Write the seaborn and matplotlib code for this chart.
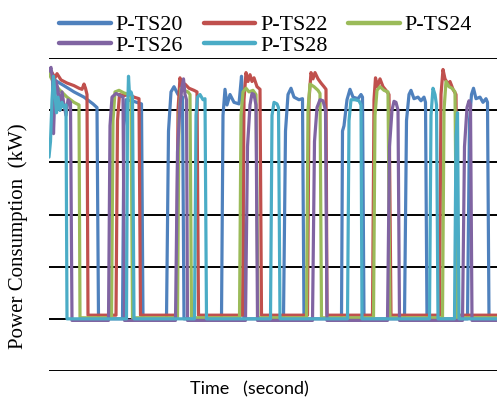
import matplotlib
matplotlib.use("Agg")
import matplotlib.pyplot as plt
import seaborn as sns
import pandas as pd

# ---- data (time in seconds, power in kW-units) ----
series_names = ["P-TS20", "P-TS22", "P-TS24", "P-TS26", "P-TS28"]
colors = ["#4F81BD", "#C0504D", "#9BBB59", "#8064A2", "#4BACC6"]

t_ts20 = [0, 3, 8, 15, 25, 35, 44, 48, 49.5,
          73.5, 75, 77, 83, 92.5, 94,
          117.5, 119.5, 122, 125, 129, 133.5, 135,
          172.5, 174, 176, 178, 181, 185, 190, 192.5, 193.5, 195,
          234.5, 236.5, 239, 242, 245, 250, 253.5, 255,
          292.5, 293.5, 295, 298, 301, 304, 309, 312, 313.5, 315,
          355.5, 357.5, 360, 362, 365, 369, 372, 375, 376.5, 378,
          418.5, 420.5, 422.5, 424.5, 427, 431, 434, 437, 438.5, 440,
          448]
v_ts20 = [4.75, 4.62, 4.55, 4.47, 4.35, 4.25, 4.12, 4.05, 0,
          0, 3.7, 4.2, 4.18, 4.12, 0,
          0, 3.6, 4.35, 4.45, 4.3, 4.25, 0,
          0, 3.9, 4.4, 4.1, 4.3, 4.15, 4.12, 4.65, 4.2, 0,
          0, 3.6, 4.3, 4.42, 4.25, 4.2, 4.22, 0,
          0, 3.6, 3.7, 4.2, 4.4, 4.25, 4.22, 4.3, 4.25, 0,
          0, 3.8, 4.3, 4.38, 4.22, 4.25, 4.18, 4.25, 4.15, 0,
          0, 3.8, 4.3, 4.42, 4.22, 4.25, 4.15, 4.22, 4.15, 0,
          0]

t_ts22 = [0, 3, 6, 8, 12, 18, 25, 30, 33, 35, 36.5, 38, 39,
          67, 68.5, 70.5, 75, 80, 85, 90, 91.5,
          127.5, 129, 131, 133, 136, 140, 145, 148, 149.5,
          193.5, 195, 197, 199, 201, 203, 205, 208, 211, 212.5,
          258.5, 260, 262, 264, 266, 269, 272, 275, 277, 278,
          323.5, 325, 326.5, 328.5, 331, 334, 337, 340, 342,
          390.5, 392, 394, 396, 399, 401, 404, 407, 409,
          448]
v_ts22 = [4.78, 4.72, 4.62, 4.7, 4.58, 4.52, 4.47, 4.42, 4.4, 4.5, 4.42, 4.3, 0.07,
          0.07, 3.8, 4.3, 4.28, 4.3, 4.25, 4.22, 0.07,
          0.07, 4.0, 4.62, 4.45, 4.5, 4.42, 4.38, 4.35, 0.07,
          0.07, 4.2, 4.72, 4.55, 4.68, 4.55, 4.62, 4.45, 4.4, 0.07,
          0.07, 4.2, 4.72, 4.6, 4.72, 4.6, 4.52, 4.45, 4.4, 0.07,
          0.07, 4.2, 4.62, 4.45, 4.6, 4.45, 4.38, 4.3, 0.07,
          0.07, 4.3, 4.78, 4.6, 4.5, 4.55, 4.4, 4.3, 0.07,
          0.07]

t_ts24 = [0, 4, 10, 18, 25, 30, 31,
          62.5, 64, 66, 70, 75, 80, 82, 83.5,
          128.5, 130, 132, 135, 139, 141, 142.5,
          190.5, 192, 194, 197, 200, 204, 207, 209,
          257.5, 259, 261, 265, 269, 271, 272.5,
          324.5, 326, 328, 331, 335, 339, 341,
          393.5, 395, 397, 400, 403, 406, 408,
          448]
v_ts24 = [4.7, 4.55, 4.4, 4.25, 4.15, 4.1, 0.02,
          0.02, 3.8, 4.35, 4.38, 4.33, 4.3, 4.25, 0.02,
          0.02, 3.9, 4.42, 4.38, 4.35, 4.3, 0.02,
          0.02, 3.9, 4.35, 4.42, 4.35, 4.38, 4.3, 0.02,
          0.02, 4.0, 4.5, 4.45, 4.38, 4.32, 0.02,
          0.02, 3.9, 4.38, 4.45, 4.38, 4.35, 0.02,
          0.02, 4.0, 4.55, 4.45, 4.42, 4.35, 0.02,
          0.02]

t_ts26 = [0, 2, 3.5, 4.5, 5.5, 7, 9, 11, 13, 15, 17, 19, 21.5, 23,
          59.5, 61, 63, 67, 71, 74, 75.5,
          126.5, 128.5, 131, 133, 134.5, 136, 137.5, 138.5,
          196.5, 198.5, 201, 203, 205, 207, 208.5,
          263.5, 265.5, 268, 271, 274, 276.5, 278,
          338.5, 340.5, 343, 345, 347, 349, 350.5,
          413.5, 415.5, 418, 420, 421.5, 423,
          448]
v_ts26 = [4.75, 4.82, 4.6, 3.55, 4.1, 4.55, 4.4, 4.0, 4.35, 4.1, 3.9, 4.2, 4.15, -0.03,
          -0.03, 3.7, 4.25, 4.32, 4.28, 4.25, -0.03,
          -0.03, 3.2, 4.1, 4.45, 4.6, 4.3, 4.2, -0.03,
          -0.03, 3.3, 4.1, 4.32, 4.3, 4.1, -0.03,
          -0.03, 3.4, 4.05, 4.2, 4.18, 4.0, -0.03,
          -0.03, 3.3, 4.0, 4.17, 4.15, 4.0, -0.03,
          -0.03, 3.3, 4.05, 4.18, 4.1, -0.03,
          -0.03]

t_ts28 = [0, 1.5, 3, 4.5, 6, 7.5, 9, 11, 13, 15, 17, 18,
          77.5, 78.5, 79.5, 80.5, 82, 83.5, 85,
          145.5, 147, 148.5, 151, 154, 156, 157.5,
          221.5, 223, 225, 228, 229.5, 231,
          298.5, 300, 302, 306, 310, 312, 313,
          380.5, 382, 384, 386, 387.5, 389,
          405.5, 407, 408.5, 410,
          448]
v_ts28 = [3.1, 3.4, 4.2, 4.65, 4.3, 3.95, 4.25, 4.0, 4.15, 4.05, 4.1, 0,
          0, 3.9, 4.65, 4.3, 4.35, 4.25, 0,
          0, 3.9, 4.25, 4.3, 4.2, 4.22, 0,
          0, 3.9, 4.15, 4.12, 4.05, 0,
          0, 3.8, 4.2, 4.2, 4.18, 4.1, 0,
          0, 3.9, 4.42, 4.3, 4.1, 0,
          0, 3.5, 3.95, 0,
          0]

gridline_values = [-1, 0, 1, 2, 3, 4, 5]

# ---- build long-form table ----
frames = []
for name, t, v in zip(series_names,
                      [t_ts20, t_ts22, t_ts24, t_ts26, t_ts28],
                      [v_ts20, v_ts22, v_ts24, v_ts26, v_ts28]):
    frames.append(pd.DataFrame({"Time": t, "Power": v, "Series": name}))
df = pd.concat(frames, ignore_index=True)

sns.set_theme(style="white")
plt.rcParams["font.family"] = ["Liberation Serif", "DejaVu Serif"]
plt.rcParams["text.color"] = "black"

fig = plt.figure(figsize=(4.97, 4.04), dpi=100)
ax = fig.add_axes([49 / 497, 1 - 371 / 404, 448 / 497, (371 - 58) / 404])

for g in gridline_values:
    ax.axhline(g, color="black", lw=1.4, zorder=0)

sns.lineplot(data=df, x="Time", y="Power", hue="Series", hue_order=series_names,
             palette=colors, estimator=None, sort=False, lw=2.3, ax=ax,
             legend=False)

ax.set_xlim(0, 448)
ax.set_ylim(-1, 5)
ax.set_xticks([])
ax.set_yticks([])
for s in ax.spines.values():
    s.set_visible(False)
ax.set_xlabel("")
ax.set_ylabel("")

from matplotlib.lines import Line2D
# matplotlib fills legend columns first; reorder so rows read 20,22,24 / 26,28
order = [0, 3, 1, 4, 2]
handles = [Line2D([], [], color=colors[i], lw=3.2) for i in order]
labels = [series_names[i] for i in order]
fig.legend(handles, labels, loc="upper left",
           bbox_to_anchor=(59 / 497, 1 - 15 / 404), ncol=3, frameon=False,
           fontsize=15.8, handlelength=2.35, handletextpad=0.22,
           columnspacing=0.95, labelspacing=0.0, borderpad=0, borderaxespad=0)

fig.text(18 / 497, 1 - 236 / 404, "Power Consumption  (kW)", rotation=90,
         ha="center", va="center", fontsize=15, color="black",
         family=["Liberation Serif"])
fig.text(249 / 497, 1 - 389 / 404, "Time   (second)", ha="center", va="center",
         fontsize=13, color="black", family=["Lato", "DejaVu Sans"])

fig.savefig("out.png", dpi=100)
